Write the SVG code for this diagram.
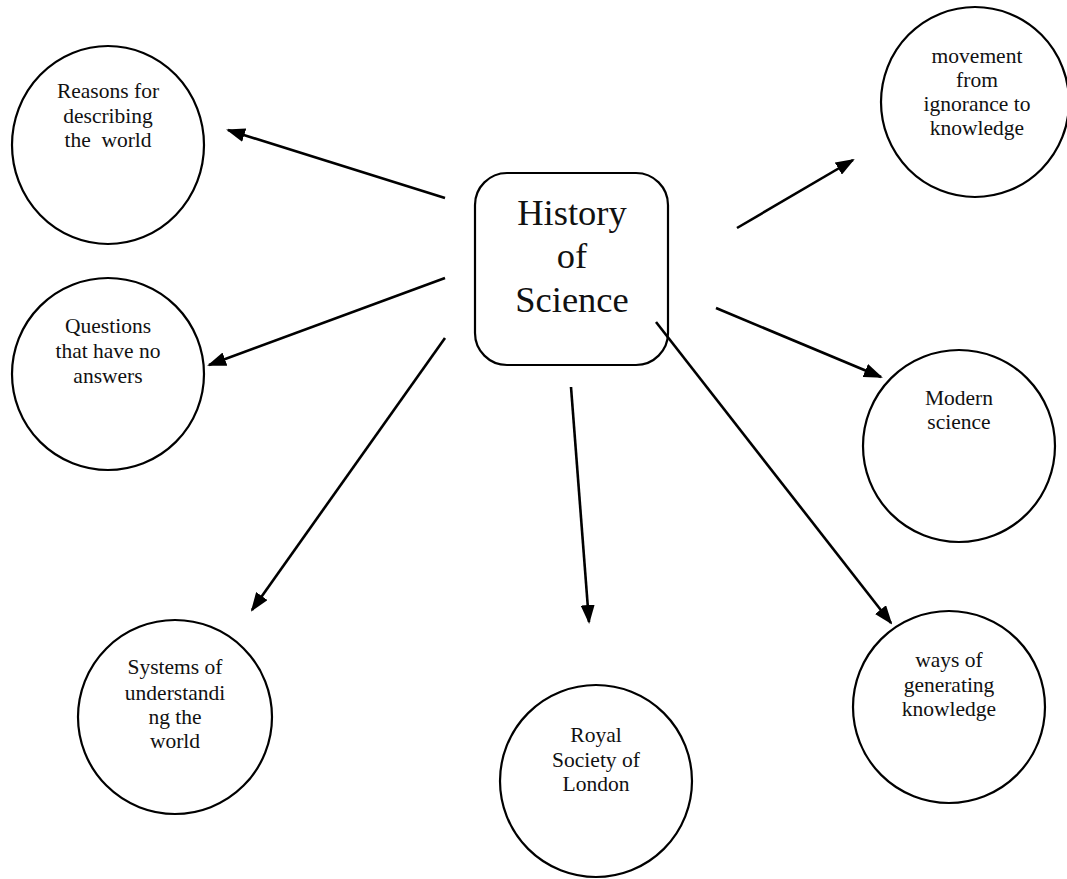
<svg xmlns="http://www.w3.org/2000/svg" width="1067" height="879" viewBox="0 0 1067 879">
<style>
.node{fill:#fff;stroke:#000;stroke-width:2.2}
.t{font-family:"Liberation Serif","Times New Roman",serif;font-size:21.5px;fill:#111;text-anchor:middle}
.big{font-size:36.5px}
.edge{stroke:#000;stroke-width:2.6;fill:none;marker-end:url(#ah)}
</style>
<defs>
<marker id="ah" markerUnits="userSpaceOnUse" markerWidth="19" markerHeight="14" refX="17" refY="7" orient="auto">
<path d="M0,0 L19,7 L0,14 z" fill="#000"/>
</marker>
</defs>
<rect width="1067" height="879" fill="#fff"/>
<g id="center">
<rect class="node" x="475" y="173" width="193" height="192" rx="32"/>
<text class="t big" x="572" y="225">History</text>
<text class="t big" x="572" y="268">of</text>
<text class="t big" x="572" y="312">Science</text>
</g>
<g id="reasons">
<ellipse class="node" cx="108" cy="145" rx="96" ry="99"/>
<text class="t" x="108" y="98">Reasons for</text>
<text class="t" x="108" y="123">describing</text>
<text class="t" x="108" y="147" xml:space="preserve">the  world</text>
</g>
<g id="questions">
<ellipse class="node" cx="108" cy="374" rx="96" ry="96"/>
<text class="t" x="108" y="333">Questions</text>
<text class="t" x="108" y="358">that have no</text>
<text class="t" x="108" y="383">answers</text>
</g>
<g id="systems">
<ellipse class="node" cx="175" cy="717" rx="97" ry="97"/>
<text class="t" x="175" y="674">Systems of</text>
<text class="t" x="175" y="700">understandi</text>
<text class="t" x="175" y="724">ng the</text>
<text class="t" x="175" y="748">world</text>
</g>
<g id="royal">
<ellipse class="node" cx="596" cy="781" rx="96" ry="96"/>
<text class="t" x="596" y="742">Royal</text>
<text class="t" x="596" y="767">Society of</text>
<text class="t" x="596" y="791">London</text>
</g>
<g id="ways">
<ellipse class="node" cx="949" cy="707" rx="96" ry="96"/>
<text class="t" x="949" y="667">ways of</text>
<text class="t" x="949" y="692">generating</text>
<text class="t" x="949" y="716">knowledge</text>
</g>
<g id="modern">
<ellipse class="node" cx="959" cy="446" rx="96" ry="96"/>
<text class="t" x="959" y="405">Modern</text>
<text class="t" x="959" y="429">science</text>
</g>
<g id="movement">
<ellipse class="node" cx="975" cy="102" rx="94" ry="95"/>
<text class="t" x="977" y="63">movement</text>
<text class="t" x="977" y="87">from</text>
<text class="t" x="977" y="111">ignorance to</text>
<text class="t" x="977" y="135">knowledge</text>
</g>
<g id="connectors">
<line class="edge" x1="445" y1="198" x2="228" y2="130"/>
<line class="edge" x1="445" y1="278" x2="209" y2="365"/>
<line class="edge" x1="445" y1="338" x2="252" y2="610"/>
<line class="edge" x1="571" y1="387" x2="589" y2="622"/>
<line class="edge" x1="656" y1="322" x2="891" y2="623"/>
<line class="edge" x1="716" y1="308" x2="881" y2="377"/>
<line class="edge" x1="737" y1="228" x2="853" y2="160"/>
</g>
</svg>
